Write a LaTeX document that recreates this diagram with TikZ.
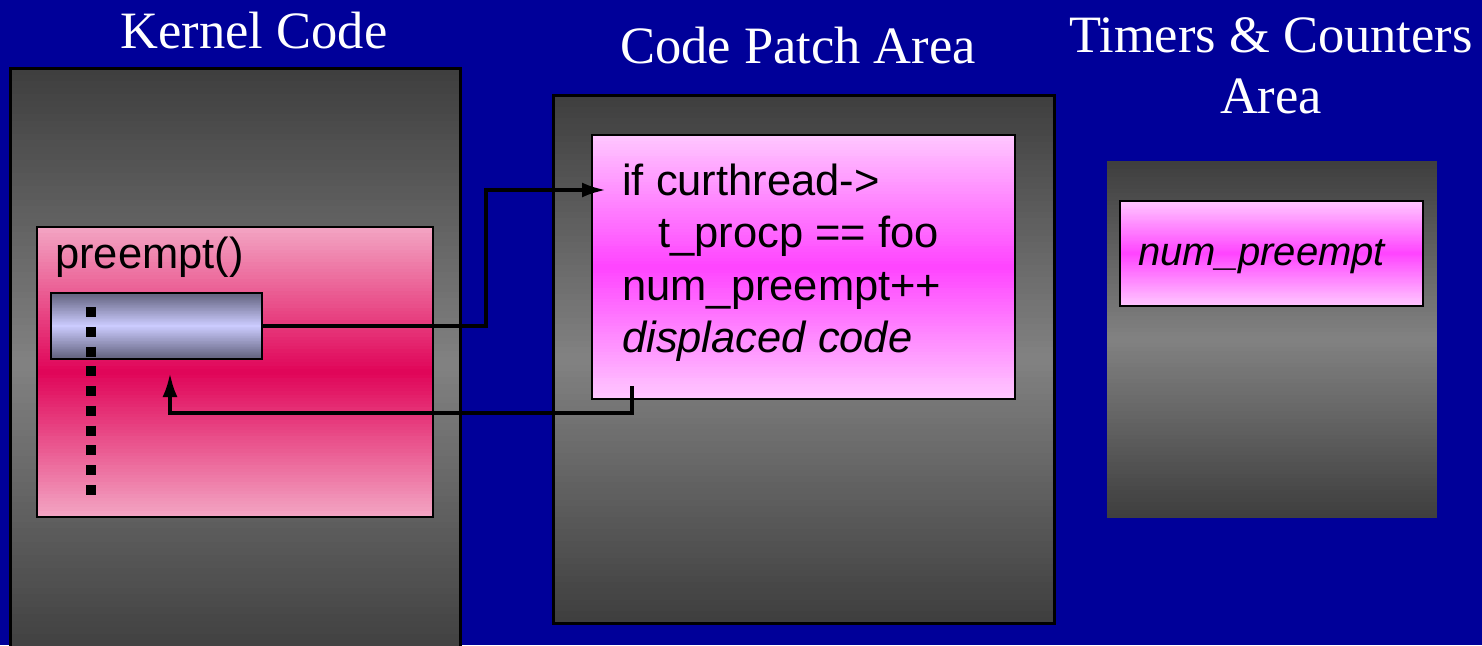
\documentclass[tikz,border=0pt]{standalone}
\usepackage{fontspec}
\setmainfont{Liberation Serif}
\newfontfamily\arialfam{Liberation Sans}
\usetikzlibrary{arrows.meta}

\definecolor{slide}{RGB}{0,0,153}
\definecolor{panelDark}{RGB}{62,62,62}
\definecolor{panelLight}{RGB}{130,130,130}
\definecolor{rosePale}{RGB}{243,166,196}
\definecolor{roseDeep}{RGB}{224,4,88}
\definecolor{barDark}{RGB}{96,96,124}
\definecolor{barLight}{RGB}{204,204,255}
\definecolor{orchidPale}{RGB}{255,200,255}
\definecolor{orchidDeep}{RGB}{255,68,255}

% vertical band gradient: edge colour at top and bottom, middle colour in the centre
% #1,#2 = top-left corner, #3,#4 = bottom-right corner, #5 = edge colour, #6 = middle colour
\newcommand\gradband[6]{%
  \foreach \k in {0,...,89}{%
    \pgfmathsetmacro\ya{#2+(#4-#2)/90*\k}%
    \pgfmathsetmacro\yb{min(#4,#2+(#4-#2)/90*(\k+1.4))}%
    \pgfmathtruncatemacro\pc{round(100*abs(2*(\k+0.5)/90-1))}%
    \fill[#5!\pc!#6] (#1,\ya) rectangle (#3,\yb);%
  }%
}

\tikzset{
  framebox/.style={draw=black, line width=3pt, inner sep=0pt, outer sep=0pt, anchor=north west},
  innerbox/.style={draw=black, line width=2.5pt, inner sep=0pt, outer sep=0pt, anchor=north west},
  heading/.style={text=white, inner sep=0pt, anchor=base,
    font=\fontsize{52.5}{62}\selectfont},
  codeline/.style={text=black, inner sep=0pt, anchor=base west,
    font=\arialfam\fontsize{43.5}{52}\selectfont},
  flow/.style={draw=black, line width=3.8pt, -{Latex[length=24pt,width=15pt]}},
}

\begin{document}
\begin{tikzpicture}[x=1pt,y=-1pt]
  \clip (0,0) rectangle (1482,645);
  \fill[slide] (0,0) rectangle (1482,645);

  % headings
  \node[heading] (hKernel) at (254,48) {Kernel Code};
  \node[heading] (hPatch) at (798,63) {Code Patch Area};
  \node[heading] (hTimers) at (1271,52) {Timers \& Counters};
  \node[heading] (hArea) at (1271,113) {Area};

  % memory regions
  \gradband{10}{68}{460}{660}{panelDark}{panelLight}
  \node[framebox, minimum width=450pt, minimum height=592pt] (kernel) at (10,68) {};
  \gradband{553}{95}{1054}{623}{panelDark}{panelLight}
  \node[framebox, minimum width=501pt, minimum height=528pt] (patch) at (553,95) {};
  \gradband{1107}{161}{1437}{518}{panelDark}{panelLight}
  \node[framebox, draw=none, minimum width=330pt, minimum height=357pt] (timers) at (1107,161) {};

  % kernel function
  \gradband{37}{227}{433}{517}{rosePale}{roseDeep}
  \node[innerbox, minimum width=396pt, minimum height=290pt] (preempt) at (37,227) {};
  \node[codeline] (preemptName) at (55,268) {preempt()};
  \gradband{51}{293}{262}{359}{barDark}{barLight}
  \node[innerbox, minimum width=211pt, minimum height=66pt] (slot) at (51,293) {};
  \draw[line width=10pt, dash pattern=on 10pt off 9.75pt] (91,307) -- (91,497);

  % patch code
  \gradband{592}{135}{1015}{399}{orchidPale}{orchidDeep}
  \node[innerbox, minimum width=423pt, minimum height=264pt] (patchcode) at (592,135) {};
  \node[codeline] (lineA) at (622,195) {if curthread->};
  \node[codeline] (lineB) at (658,247) {t\_procp == foo};
  \node[codeline] (lineC) at (622,300) {num\_preempt++};
  \node[codeline] (lineD) at (622,352) {\itshape displaced code};

  % counter
  \gradband{1120}{201}{1423}{306}{orchidPale}{orchidDeep}
  \node[innerbox, minimum width=303pt, minimum height=105pt] (counter) at (1120,201) {};
  \node[codeline, font=\arialfam\itshape\fontsize{40}{48}\selectfont] (counterName) at (1138,265) {num\_preempt};

  % jump into the patch and back
  \coordinate (jumpBend) at (486,326);
  \coordinate (patchEntry) at (606,190);
  \draw[flow] (slot.east) -- (jumpBend) |- (patchEntry);

  \coordinate (patchExit) at (632,386);
  \coordinate (returnBend) at (632,413);
  \coordinate (resume) at (170,373);
  \draw[flow] (patchExit) -- (returnBend) -| (resume);
\end{tikzpicture}
\end{document}
